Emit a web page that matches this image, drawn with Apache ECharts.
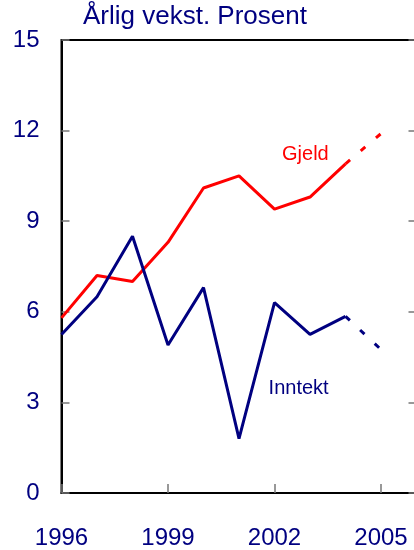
<!DOCTYPE html>
<html>
<head>
<meta charset="utf-8">
<script src="https://cdn.jsdelivr.net/npm/echarts@6/dist/echarts.min.js"></script>
<style>
  html, body { margin: 0; padding: 0; background: #fff; }
  #chart { width: 414px; height: 550px; }
</style>
</head>
<body>
<div id="chart"></div>
<script>
// annual growth, percent
const years = [1996, 1997, 1998, 1999, 2000, 2001, 2002, 2003, 2004, 2005];
const gjeld = [5.8, 7.2, 7.0, 8.3, 10.1, 10.5, 9.4, 9.8, 10.9, 11.9];
const inntekt = [5.25, 6.5, 8.5, 4.9, 6.8, 1.8, 6.3, 5.25, 5.85, 4.75];
const lastActual = 2004; // after this the line is a projection (dashed)
const yTicks = [0, 3, 6, 9, 12, 15];
const xTicks = [1996, 1999, 2002, 2005];

const FONT = "'Liberation Sans', Arial, sans-serif";
const NAVY = '#000080';
const RED = '#ff0000';

function pairs(vals, keep) {
  return years.map((y, i) => [y, vals[i]]).filter(p => keep(p[0]));
}

function lineSeries(name, vals, color, labelAt) {
  return [
    {
      name: name,
      type: 'line',
      data: pairs(vals, y => y <= lastActual),
      symbol: 'none',
      lineStyle: { color: color, width: 3 },
      markPoint: {
        symbol: 'circle',
        symbolSize: 0,
        data: [{ coord: labelAt, value: name }],
        label: {
          show: true, position: 'inside', formatter: name,
          color: color, fontFamily: FONT, fontSize: 20
        }
      }
    },
    {
      name: name + ' anslag',
      type: 'line',
      data: pairs(vals, y => y >= lastActual),
      symbol: 'none',
      lineStyle: { color: color, width: 3, type: [6, 14], cap: 'butt' }
    }
  ];
}

const chart = echarts.init(document.getElementById('chart'));
const yAxisBase = {
  type: 'value',
  min: yTicks[0],
  max: yTicks[yTicks.length - 1],
  interval: yTicks[1] - yTicks[0],
  splitLine: { show: false },
  axisLine: { show: true, lineStyle: { color: '#000', width: 2 } },
  axisTick: { show: true, inside: true, length: 8, lineStyle: { color: '#777', width: 1.5 } }
};

chart.setOption({
  animation: false,
  backgroundColor: '#fff',
  title: {
    text: 'Årlig vekst. Prosent',
    left: 83, top: 4, padding: 0,
    textStyle: { color: NAVY, fontFamily: FONT, fontSize: 26, fontWeight: 'normal' }
  },
  grid: {
    left: 61.5, width: 355, top: 40, bottom: 57,
    outerBoundsMode: 'none',
    show: true, borderColor: '#000', borderWidth: 2
  },
  xAxis: {
    type: 'value',
    min: 1996, max: 2006, interval: xTicks[1] - xTicks[0],
    splitLine: { show: false },
    axisLine: { show: true, lineStyle: { color: '#000', width: 2 } },
    axisTick: { show: true, inside: true, length: 9, lineStyle: { color: '#777', width: 1.5 } },
    axisLabel: {
      color: NAVY, fontFamily: FONT, fontSize: 24, margin: 33,
      showMaxLabel: false,
      formatter: v => xTicks.includes(v) ? String(v) : ''
    }
  },
  yAxis: [
    Object.assign({}, yAxisBase, {
      position: 'left',
      axisLabel: { color: NAVY, fontFamily: FONT, fontSize: 24, margin: 22 }
    }),
    Object.assign({}, yAxisBase, {
      position: 'right',
      axisLabel: { show: false }
    })
  ],
  series: [
    ...lineSeries('Gjeld', gjeld, RED, [2002.87, 11.2]),
    ...lineSeries('Inntekt', inntekt, NAVY, [2002.68, 3.45])
  ]
});
</script>
</body>
</html>
